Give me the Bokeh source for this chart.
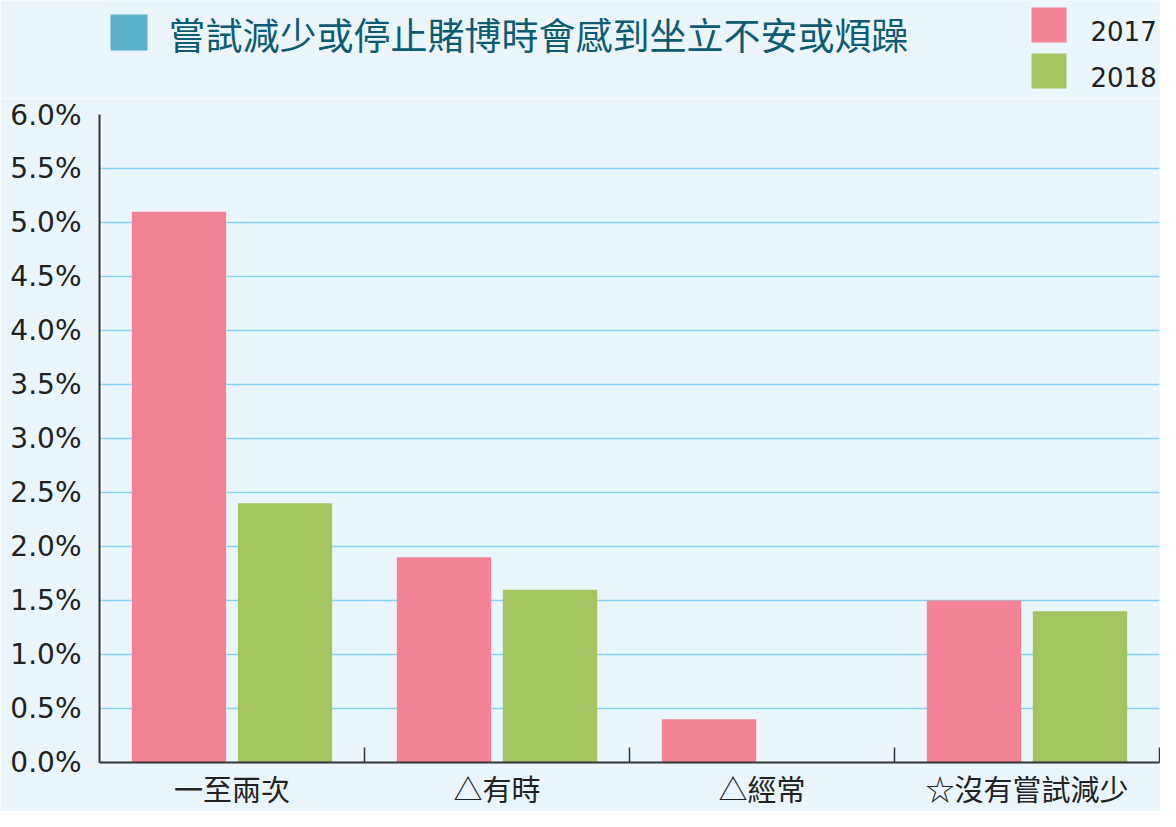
import numpy as np
from bokeh.plotting import figure
from bokeh.layouts import column
from bokeh.models import ColumnDataSource, FixedTicker, PrintfTickFormatter, Range1d
from bokeh.core.properties import value
from bokeh.embed import file_html
from bokeh.resources import INLINE

categories = ["一至兩次", "△有時", "△經常", "☆沒有嘗試減少"]
values_2017 = [5.1, 1.9, 0.4, 1.5]
values_2018 = [2.4, 1.6, 0.0, 1.4]
series_names = ["2017", "2018"]
y_ticks = [0.0, 0.5, 1.0, 1.5, 2.0, 2.5, 3.0, 3.5, 4.0, 4.5, 5.0, 5.5, 6.0]
title_text = "嘗試減少或停止賭博時會感到坐立不安或煩躁"

BG = "#EAF6FC"
PINK = "#F48396"
GREEN = "#A5C462"
GRID = "#86D2F1"
AXIS = "#333333"
series_colors = [PINK, GREEN]

W = 1160
H = 811
HEAD_H = 98
LEFT = 99
RIGHT = 1

# ---------- header: title + legend (frame is aligned with the main frame) ----------
head = figure(width=W, height=HEAD_H, output_backend="svg", toolbar_location=None,
              x_range=Range1d(LEFT, W - RIGHT), y_range=Range1d(HEAD_H, 0),
              x_axis_type=None, y_axis_type=None,
              min_border_left=LEFT, min_border_right=RIGHT,
              min_border_top=0, min_border_bottom=0)
head.background_fill_color = BG
head.border_fill_color = BG
head.outline_line_color = None
head.grid.visible = False

head.quad(left=[110], right=[147], top=[14], bottom=[50],
          fill_color="#5BB1CC", line_color=None)
head.text(x=[168], y=[33], text=[title_text], text_baseline="middle", text_align="left",
          text_font=value("Noto Sans CJK TC"), text_font_size=value("37px"),
          text_color="#0E5B73")

leg_src = ColumnDataSource(dict(left=[1031, 1031], right=[1066, 1066],
                                top=[7, 53], bottom=[42, 88],
                                color=series_colors, name=series_names,
                                tx=[1090, 1090], ty=[30, 76]))
head.quad(left="left", right="right", top="top", bottom="bottom",
          fill_color="color", line_color=None, source=leg_src)
head.text(x="tx", y="ty", text="name", source=leg_src, text_baseline="middle",
          text_align="left", text_font=value("DejaVu Sans"),
          text_font_size=value("26px"), text_color="#222222")

# ---------- main chart ----------
n = len(categories)
centers = np.arange(n) + 0.5
boundaries = [float(b) for b in np.arange(1, n + 1)]

p = figure(width=W, height=H - HEAD_H, output_backend="svg", toolbar_location=None,
           x_range=Range1d(0, n), y_range=Range1d(0, 6.0),
           min_border_left=LEFT, min_border_right=RIGHT, min_border_top=16,
           min_border_bottom=44)
p.background_fill_color = BG
p.border_fill_color = BG
p.outline_line_color = None

src = ColumnDataSource(dict(x17=centers - 0.2, x18=centers + 0.2,
                            v17=values_2017, v18=values_2018))
p.vbar(x="x17", top="v17", width=0.356, bottom=0, source=src,
       fill_color=PINK, line_color=None)
p.vbar(x="x18", top="v18", width=0.356, bottom=0, source=src,
       fill_color=GREEN, line_color=None)

p.xgrid.grid_line_color = None
p.ygrid.grid_line_color = GRID
p.ygrid.grid_line_width = 1.6
p.ygrid.ticker = FixedTicker(ticks=y_ticks)

p.yaxis.ticker = FixedTicker(ticks=y_ticks)
p.yaxis.formatter = PrintfTickFormatter(format="%.1f%%")
p.yaxis.major_tick_line_color = None
p.yaxis.minor_tick_line_color = None
p.yaxis.axis_line_color = AXIS
p.yaxis.axis_line_width = 2
p.yaxis.major_label_text_font = "DejaVu Sans"
p.yaxis.major_label_text_font_size = "28px"
p.yaxis.major_label_text_color = "#222222"
p.yaxis.major_label_standoff = 12

p.xaxis.ticker = FixedTicker(ticks=list(centers), minor_ticks=boundaries)
p.xaxis.major_label_overrides = {float(c): lab for c, lab in zip(centers, categories)}
p.xaxis.major_label_text_font = "Noto Sans CJK TC"
p.xaxis.major_label_text_font_size = "29px"
p.xaxis.major_label_text_color = "#222222"
p.xaxis.major_label_standoff = 4
p.xaxis.major_tick_line_color = None
p.xaxis.major_tick_in = 0
p.xaxis.major_tick_out = 0
p.xaxis.minor_tick_in = 15
p.xaxis.minor_tick_out = 0
p.xaxis.minor_tick_line_color = AXIS
p.xaxis.minor_tick_line_width = 1.5
p.xaxis.axis_line_color = AXIS
p.xaxis.axis_line_width = 2

layout = column(head, p, spacing=0)
open("out.html", "w").write(file_html(layout, INLINE))
